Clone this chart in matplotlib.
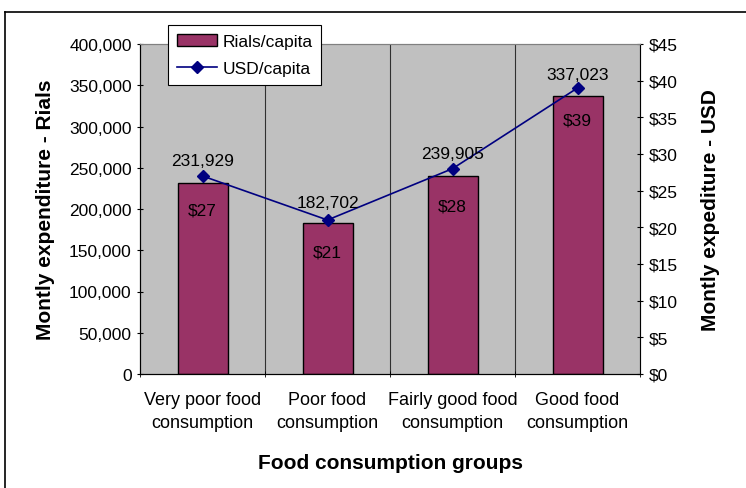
import matplotlib.pyplot as plt
from matplotlib.lines import Line2D
from matplotlib.ticker import FuncFormatter
import numpy as np

plt.rcParams['font.family'] = ['Liberation Sans', 'DejaVu Sans']

groups = ["Very poor food\nconsumption", "Poor food\nconsumption",
          "Fairly good food\nconsumption", "Good food\nconsumption"]
rials = [231929, 182702, 239905, 337023]
usd = [27, 21, 28, 39]

# label offsets (pixels) from the USD points, as placed in the original
rial_off = [15, 18, 15, 14]
usd_off = [-34, -32, -37, -32]

fig = plt.figure(figsize=(7.46, 4.89), dpi=100)
ax = fig.add_axes([140/746, 1-375/489, 500/746, 330/489])
ax.set_facecolor("#C0C0C0")

x = np.arange(len(groups))
ax.bar(x, rials, width=0.4, color="#993366", edgecolor="black", linewidth=1,
       label="Rials/capita", zorder=2)
ax.set_xlim(-0.5, 3.5)
ax.set_ylim(0, 400000)
ax.set_yticks(np.arange(0, 400001, 50000))
ax.yaxis.set_major_formatter(FuncFormatter(lambda v, p: f"{int(v):,}"))
ax.set_xticks(x)
ax.set_xticklabels(groups, fontsize=13, linespacing=1.45)
ax.set_xticks(np.arange(-0.5, 4, 1), minor=True)
ax.tick_params(axis='x', which='major', length=0, pad=12)
ax.tick_params(axis='x', which='minor', length=5, direction='inout')
ax.tick_params(axis='y', length=5, direction='inout', labelsize=12.5)
for g in np.arange(0.5, 3.5, 1):
    ax.axvline(g, color="#303030", linewidth=0.8, zorder=1)
for s in ['top', 'right']:
    ax.spines[s].set_color("#808080")
ax.set_ylabel("Montly expenditure - Rials", fontsize=15, fontweight='bold', labelpad=10)
ax.set_xlabel("Food consumption groups", fontsize=15, fontweight='bold', labelpad=16)

ax2 = ax.twinx()
ax2.plot(x, usd, color="#000080", marker="D", markersize=6, linewidth=1.2,
         label="USD/capita", zorder=3)
ax2.set_ylim(0, 45)
ax2.set_yticks(np.arange(0, 46, 5))
ax2.yaxis.set_major_formatter(FuncFormatter(lambda v, p: f"${int(v)}"))
ax2.tick_params(axis='y', length=5, direction='inout', labelsize=12.5)
ax2.spines['right'].set_color("black")
ax2.spines['top'].set_color("#808080")
ax2.set_ylabel("Montly expediture - USD", fontsize=15, fontweight='bold', labelpad=17)

for i in range(len(groups)):
    ax2.annotate(f"{rials[i]:,}", (x[i], usd[i]), xytext=(0, rial_off[i]),
                 textcoords='offset pixels', ha='center', va='center', fontsize=12.5)
    ax2.annotate(f"${usd[i]}", (x[i], usd[i]), xytext=(0, usd_off[i]),
                 textcoords='offset pixels', ha='center', va='center', fontsize=12.5)

h1, l1 = ax.get_legend_handles_labels()
h2, l2 = ax2.get_legend_handles_labels()
leg = fig.legend(h1 + h2, l1 + l2, loc='upper left',
                 bbox_to_anchor=(168/746, 1-26/489), fontsize=12.5, frameon=True,
                 fancybox=False, edgecolor="black", framealpha=1,
                 handlelength=2.3, handletextpad=0.35, borderpad=0.5,
                 labelspacing=0.7, borderaxespad=0)
leg.get_frame().set_linewidth(0.8)

fig.add_artist(Line2D([5/746, 1], [1-13/489, 1-13/489], color="black", linewidth=1.2))
fig.add_artist(Line2D([5/746, 5/746], [0, 1-13/489], color="black", linewidth=1.2))

plt.savefig("out.png", dpi=100)
